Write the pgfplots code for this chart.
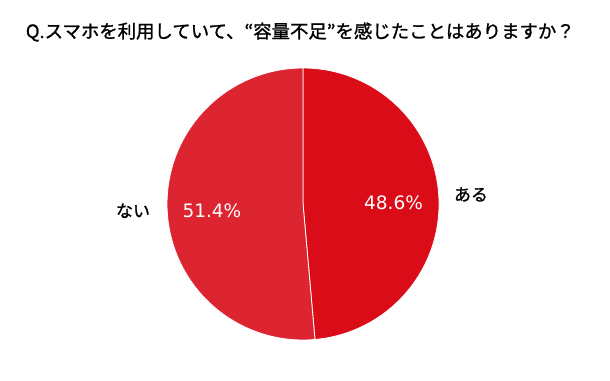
\documentclass[border=0pt]{standalone}
\usepackage{pgfplots}
\pgfplotsset{compat=1.18}
\usepackage{pgfplotstable}
\usepackage{fontspec}
\setmainfont{Noto Sans CJK JP}
\newfontfamily\titlefont[FakeBold=1.2]{Noto Sans CJK JP}
\newfontfamily\numfont{DejaVu Sans}
\definecolor{aru}{HTML}{D90C18}
\definecolor{nai}{HTML}{DC2531}
\pgfplotstableread{
label value
aru 48.6
nai 51.4
}\piedata
\begin{document}
\begin{tikzpicture}
\pgfplotstablegetelem{0}{value}\of\piedata \let\vA\pgfplotsretval
\pgfplotstablegetelem{1}{value}\of\piedata \let\vB\pgfplotsretval
\pgfmathsetmacro{\aEnd}{90-3.6*\vA}
\pgfmathsetmacro{\bEnd}{\aEnd-3.6*\vB}
\path[use as bounding box] (0,0) rectangle (610pt,380pt);
\begin{axis}[
  at={(0,0)}, anchor=south west,
  scale only axis, width=610pt, height=380pt,
  xmin=-2.228, xmax=2.257, ymin=-1.294, ymax=1.5,
  hide axis, clip=false,
]
\addplot[fill=aru, draw=white, line width=0.8pt, domain=90:\aEnd, samples=120]
  ({cos(x)},{sin(x)}) -- (axis cs:0,0) -- cycle;
\addplot[fill=nai, draw=white, line width=0.8pt, domain=\aEnd:\bEnd, samples=120]
  ({cos(x)},{sin(x)}) -- (axis cs:0,0) -- cycle;
\node[font=\titlefont\fontsize{18.4}{22}\selectfont] at (axis cs:-0.02,1.265) {Q.スマホを利用していて、“容量不足”を感じたことはありますか？};
\node[font=\numfont\fontsize{18.5}{22}\selectfont, text=white] at (axis cs:0.665,0.01) {\vA\%};
\node[font=\numfont\fontsize{18.5}{22}\selectfont, text=white] at (axis cs:-0.67,-0.05) {\vB\%};
\node[font=\titlefont\fontsize{17}{20}\selectfont] at (axis cs:1.235,0.07) {ある};
\node[font=\titlefont\fontsize{17}{20}\selectfont] at (axis cs:-1.25,-0.05) {ない};
\end{axis}
\end{tikzpicture}
\end{document}
